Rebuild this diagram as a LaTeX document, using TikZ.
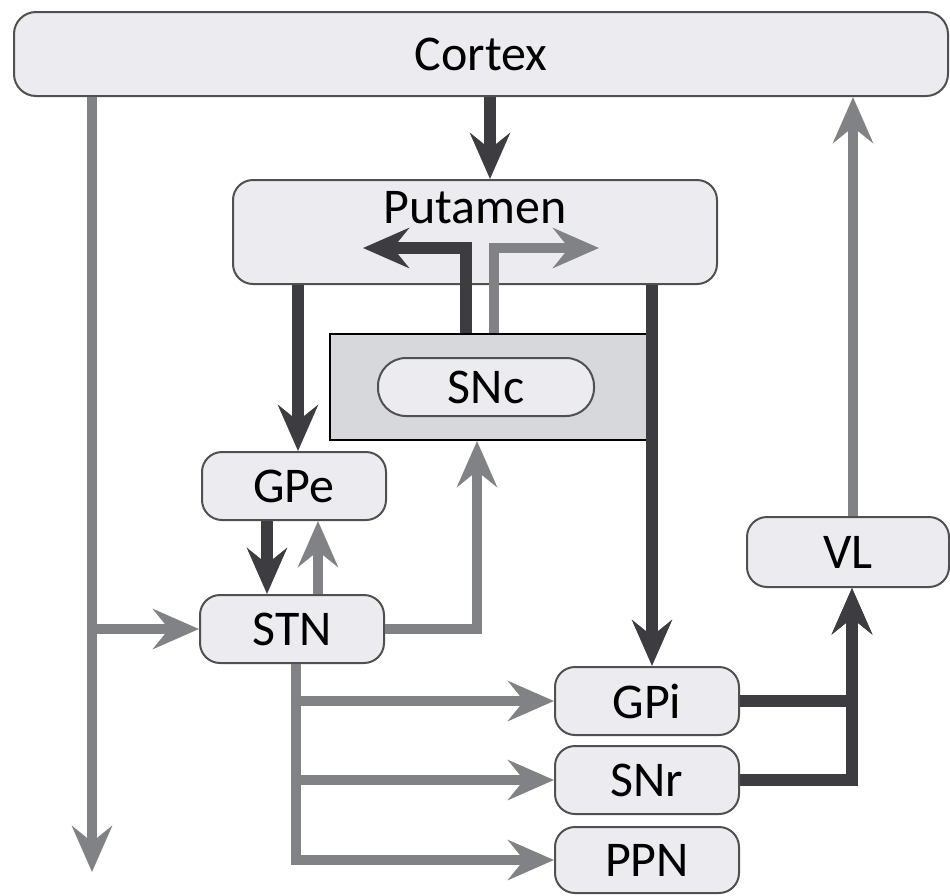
\documentclass[tikz,border=0pt]{standalone}
\usepackage{fontspec}
\setmainfont{Carlito}
\usepackage{tikz}
\usetikzlibrary{positioning,arrows.meta}
\definecolor{PathDark}{RGB}{60,60,65}
\definecolor{PathGray}{RGB}{128,130,133}
\definecolor{BoxFill}{RGB}{236,236,240}
\definecolor{BoxEdge}{RGB}{80,80,80}
\definecolor{SNcShade}{RGB}{214,216,219}

\begin{document}
\begin{tikzpicture}[
	x=0.5pt,
	y=-0.5pt,
	font=\fontsize{25}{30}\selectfont,
	region/.style={
		draw=BoxEdge,
		fill=BoxFill,
		line width=1pt,
		rounded corners=10pt,
		inner sep=0pt
	},
	darkpath/.style={
		-{Stealth[length=23pt,width=20pt,inset=8pt]},
		PathDark,
		line width=6pt
	},
	graypath/.style={
		-{Stealth[length=23pt,width=20pt,inset=8pt]},
		PathGray,
		line width=5pt
	}
	]
	
	\useasboundingbox (0,0) rectangle (950,896);
	
	% regions
	\node[
	region,
	rounded corners=11pt,
	minimum width=467pt,
	minimum height=42pt
	]
	(cortex) at (481,54)
	{Cortex};
	
	\node[
	region,
	minimum width=242pt,
	minimum height=52pt,
	label={[anchor=north,inner sep=0pt,yshift=-6pt]north:Putamen}
	]
	(putamen) at (475,232)
	{};
	
	\node[
	draw=black,
	fill=SNcShade,
	line width=1pt,
	minimum width=160pt,
	minimum height=53pt
	]
	(sncbox) at (490,387)
	{};
	
	\node[
	region,
	rounded corners=14pt,
	minimum width=108pt,
	minimum height=29pt
	]
	(snc) at (486,387)
	{SNc};
	
	\node[
	region,
	minimum width=92pt,
	minimum height=34pt
	]
	(gpe) at (294,486)
	{GPe};
	
	\node[
	region,
	minimum width=92pt,
	minimum height=34pt
	]
	(stn) at (292,629)
	{STN};
	
	\node[
	region,
	minimum width=92pt,
	minimum height=34pt
	]
	(gpi) at (647,701)
	{GPi};
	
	\node[
	region,
	minimum width=92pt,
	minimum height=34pt
	]
	(snr) at (647,780)
	{SNr};
	
	\node[
	region,
	minimum width=92pt,
	minimum height=33pt
	]
	(ppn) at (647,860)
	{PPN};
	
	\node[
	region,
	minimum width=101pt,
	minimum height=35pt
	]
	(vl) at (848,552)
	{VL};
	
	% free ends
	\coordinate (cend) at (92,872);
	\coordinate (putl) at (363,248);
	\coordinate (putr) at (599,248);
	
	% connections
	\draw[darkpath] (cortex.south -| 490,0) -- (putamen.north -| 490,0);
	
	\draw[darkpath] (sncbox.north -| 466,0) |- (putl);
	
	\draw[graypath] (sncbox.north -| 494,0) |- (putr);
	
	\draw[darkpath] (putamen.south -| 298,0) -- (gpe.north -| 298,0);
	
	\draw[darkpath] (gpe.south -| 267,0) -- (stn.north -| 267,0);
	
	\draw[graypath] (stn.north -| 318,0) -- (gpe.south -| 318,0);
	
	\draw[graypath] (stn.east) -| (sncbox.south -| 477,0);
	
	\draw[darkpath] (putamen.south -| 652,0) -- (gpi.north -| 652,0);
	
	\draw[graypath] (cortex.south -| cend) -- (cend);
	
	\draw[graypath] (stn.west -| cend) -- (stn.west);
	
	\draw[graypath] (stn.south -| 296,0) |- (ppn.west);
	
	\draw[graypath] (gpi.west -| 296,0) -- (gpi.west);
	
	\draw[graypath] (snr.west -| 296,0) -- (snr.west);
	
	\draw[darkpath] (gpi.east) -| (vl.south -| 852,0);
	
	\draw[darkpath] (snr.east) -| (vl.south -| 852,0);
	
	\draw[graypath] (vl.north -| 853,0) -- (cortex.south -| 853,0);
	
\end{tikzpicture}
\end{document}
